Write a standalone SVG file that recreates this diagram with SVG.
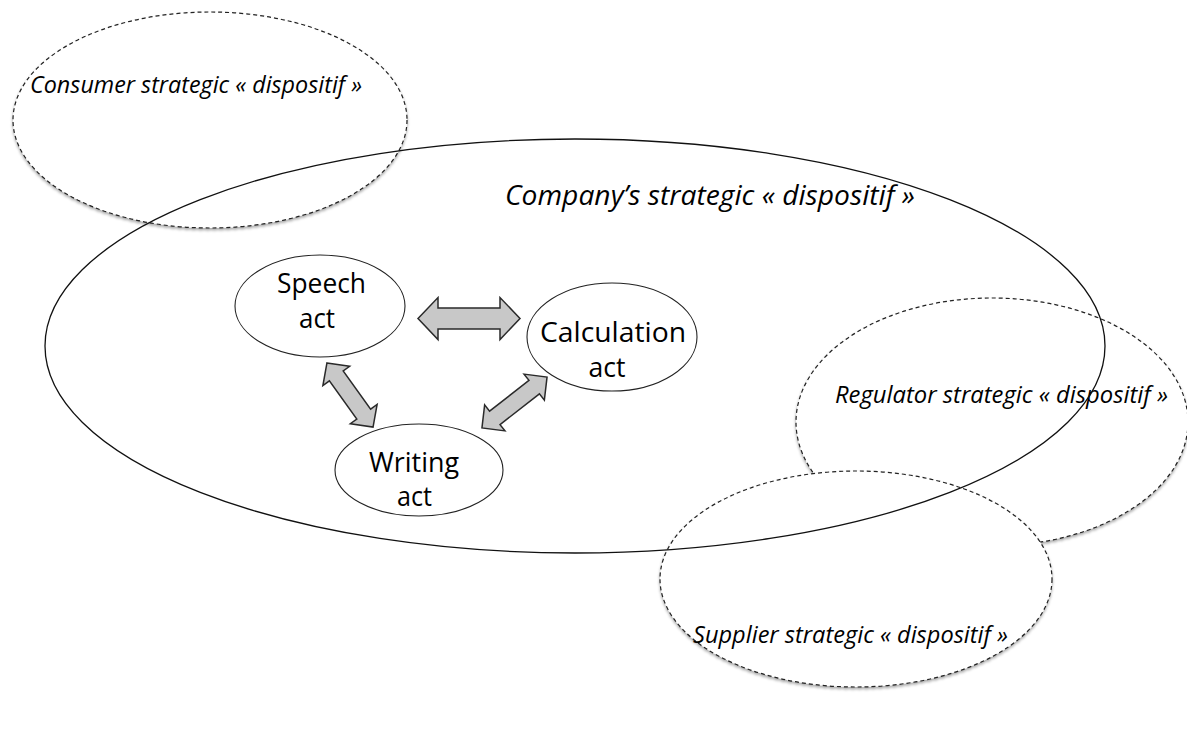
<svg xmlns="http://www.w3.org/2000/svg" width="1187" height="742" viewBox="0 0 1187 742">
<defs>
<filter id="sh" x="-10%" y="-10%" width="120%" height="130%">
<feGaussianBlur in="SourceAlpha" stdDeviation="1.5"/>
<feOffset dx="0" dy="2" result="b"/>
<feComponentTransfer><feFuncA type="linear" slope="0.35"/></feComponentTransfer>
<feMerge><feMergeNode/><feMergeNode in="SourceGraphic"/></feMerge>
</filter>
<path id="arrH" d="M-51,0 L-31,-21 L-31,-10.5 L31,-10.5 L31,-21 L51,0 L31,21 L31,10.5 L-31,10.5 L-31,21 Z"/>
</defs>
<style>
.dash{fill:#fff;stroke:#222;stroke-width:1.2;stroke-dasharray:4 3;}
.comp{fill:none;stroke:#111;stroke-width:1.3;}
.node{fill:#fff;stroke:#222;stroke-width:1.1;}
.arr{fill:#c8c8c8;stroke:#2a2a2a;stroke-width:1.5;stroke-linejoin:miter;}
.lbl{font-family:"Open Sans","Noto Sans",sans-serif;font-style:italic;fill:#000;}
.nl{font-family:"Open Sans","Noto Sans",sans-serif;font-size:27px;fill:#000;text-anchor:middle;}
</style>
<rect width="1187" height="742" fill="#fff"/>

<g id="consumer">
<ellipse class="dash" cx="210" cy="120" rx="197" ry="108" filter="url(#sh)"/>
<text class="lbl" x="30" y="93" font-size="23" textLength="332" lengthAdjust="spacingAndGlyphs">Consumer strategic « dispositif »</text>
</g>
<g id="regulator">
<ellipse class="dash" cx="992" cy="422" rx="196" ry="124" filter="url(#sh)"/>
<text class="lbl" x="835" y="403" font-size="23" textLength="333" lengthAdjust="spacingAndGlyphs">Regulator strategic « dispositif »</text>
</g>
<g id="supplier">
<ellipse class="dash" cx="856" cy="579" rx="196" ry="108" filter="url(#sh)"/>
<text class="lbl" x="693" y="643" font-size="23" textLength="315" lengthAdjust="spacingAndGlyphs">Supplier strategic « dispositif »</text>
</g>
<g id="company">
<ellipse class="comp" cx="575" cy="346" rx="530" ry="207"/>
<text class="lbl" x="505" y="205" font-size="28" textLength="410" lengthAdjust="spacingAndGlyphs">Company’s strategic « dispositif »</text>
</g>

<g id="speech">
<ellipse class="node" cx="320" cy="306" rx="85" ry="51"/>
<text class="nl" x="321.5" y="293" textLength="89" lengthAdjust="spacingAndGlyphs">Speech</text>
<text class="nl" x="317" y="328" textLength="36" lengthAdjust="spacingAndGlyphs">act</text>
</g>
<g id="calculation">
<ellipse class="node" cx="612" cy="337" rx="85" ry="54"/>
<text class="nl" x="613" y="342" textLength="146" lengthAdjust="spacingAndGlyphs">Calculation</text>
<text class="nl" x="607" y="377" textLength="37" lengthAdjust="spacingAndGlyphs">act</text>
</g>
<g id="writing">
<ellipse class="node" cx="419" cy="470" rx="84" ry="46"/>
<text class="nl" x="414" y="472" font-size="25" textLength="90" lengthAdjust="spacingAndGlyphs">Writing</text>
<text class="nl" x="414.5" y="506" font-size="25" textLength="35" lengthAdjust="spacingAndGlyphs">act</text>
</g>

<g id="connectors">
<use href="#arrH" class="arr" transform="translate(469,318.5)"/>
<path class="arr" transform="translate(350,395) rotate(54.3)" d="M-39.5,0 L-23.5,-16.5 L-23.5,-8.5 L23.5,-8.5 L23.5,-16.5 L39.5,0 L23.5,16.5 L23.5,8.5 L-23.5,8.5 L-23.5,16.5 Z"/>
<path class="arr" transform="translate(514.5,402.5) rotate(-38)" d="M-41.3,0 L-25,-16.5 L-25,-8.5 L25,-8.5 L25,-16.5 L41.3,0 L25,16.5 L25,8.5 L-25,8.5 L-25,16.5 Z"/>
</g>
</svg>
